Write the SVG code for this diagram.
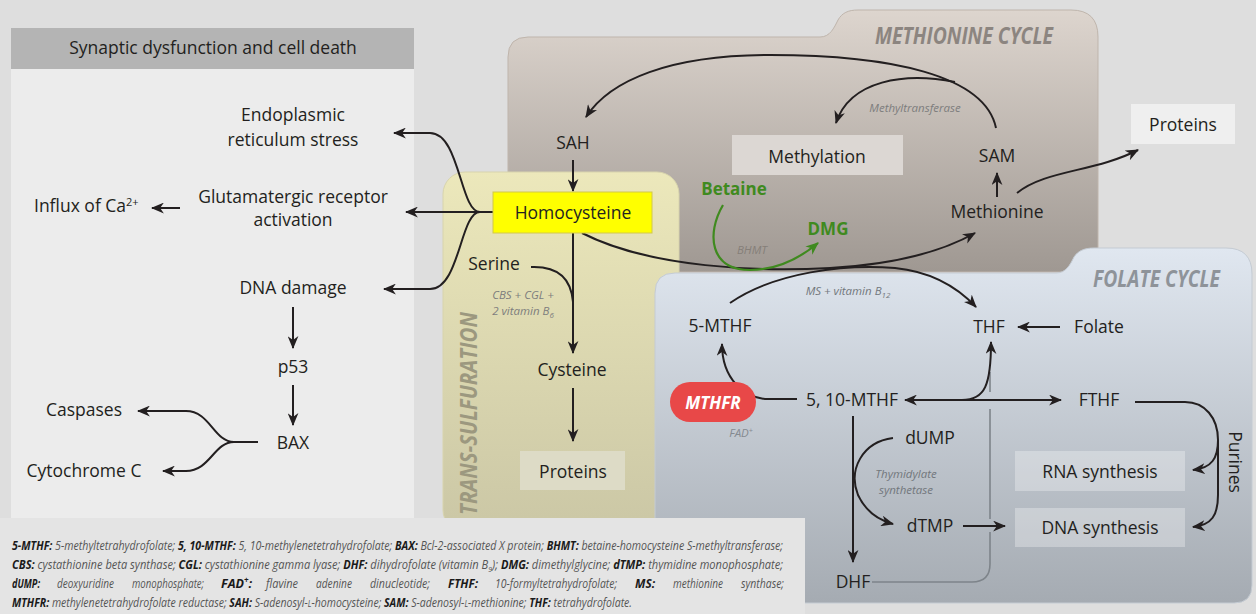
<svg xmlns="http://www.w3.org/2000/svg" width="1256" height="614" viewBox="0 0 1256 614">
<style>
.t{font-family:"Open Sans","Noto Sans",sans-serif;font-size:17.5px;fill:#231f20;text-anchor:middle}
.lab{font-family:"Open Sans","Noto Sans",sans-serif;font-style:italic;font-size:11.5px;fill:#7d7d7d;text-anchor:middle}
.ttl{font-family:"Open Sans","Noto Sans",sans-serif;font-style:italic;font-weight:bold;font-size:24px}
.grn{font-family:"Open Sans","Noto Sans",sans-serif;font-weight:bold;font-size:17px;fill:#3f8a1f;text-anchor:middle}
.ln{fill:none;stroke:#231f20;stroke-width:2;marker-end:url(#ah)}
.leg{font-family:"Open Sans","Noto Sans",sans-serif;font-style:italic;font-size:12.5px;fill:#555}
.b{font-weight:bold;fill:#1a1a1a}
</style>
<defs>
<marker id="ah" viewBox="0 0 12 10" refX="11" refY="5" markerWidth="13" markerHeight="11" markerUnits="userSpaceOnUse" orient="auto-start-reverse"><path d="M0,0 L12,5 L0,10 L3.5,5 Z" fill="#231f20"/></marker>
<marker id="ahg" viewBox="0 0 12 10" refX="11" refY="5" markerWidth="13" markerHeight="11" markerUnits="userSpaceOnUse" orient="auto"><path d="M0,0 L12,5 L0,10 L3.5,5 Z" fill="#3f8a1f"/></marker>
<linearGradient id="gMet" x1="0" y1="10" x2="0" y2="272" gradientUnits="userSpaceOnUse"><stop offset="0" stop-color="#ddd5ce"/><stop offset="1" stop-color="#9f9892"/></linearGradient>
<linearGradient id="gTs" x1="0" y1="172" x2="0" y2="518" gradientUnits="userSpaceOnUse"><stop offset="0" stop-color="#ece8bb"/><stop offset="1" stop-color="#ccc8a6"/></linearGradient>
<linearGradient id="gFol" x1="0" y1="248" x2="0" y2="603" gradientUnits="userSpaceOnUse"><stop offset="0" stop-color="#e0e7f0"/><stop offset="1" stop-color="#a5abb2"/></linearGradient>
</defs>
<rect width="1256" height="614" fill="#dedede"/>

<g id="panel-left">
<rect x="11" y="69" width="403" height="449" fill="#ececec"/>
<rect x="11" y="28" width="403" height="41" fill="#b4b4b4"/>
<text class="t" x="213" y="54">Synaptic dysfunction and cell death</text>
</g>

<g id="panel-methionine">
<path d="M528,37 H820 C830,37 834,28 838,20 C842,13 848,10 858,10 H1071 Q1098,10 1098,37 V272 H508 V57 Q508,37 528,37 Z" fill="url(#gMet)" stroke="#bfb5ac" stroke-width="1"/>
<text class="ttl" x="875" y="44" fill="#8c8580" textLength="178" lengthAdjust="spacingAndGlyphs">METHIONINE CYCLE</text>
</g>

<g id="panel-transsulfuration">
<rect x="443" y="172" width="236" height="360" rx="22" fill="url(#gTs)" stroke="#d8d4ad" stroke-width="1"/>
<text class="ttl" transform="translate(477,515) rotate(-90)" fill="#9c987f" textLength="203" lengthAdjust="spacingAndGlyphs">TRANS-SULFURATION</text>
</g>

<g id="panel-folate">
<path d="M675,273 H1056 C1066,273 1070,265 1074,257 C1078,251 1084,248 1094,248 H1226 Q1252,248 1252,274 V585 Q1252,603 1234,603 H655 V293 Q655,273 675,273 Z" fill="url(#gFol)" stroke="#c4cbd3" stroke-width="1"/>
<text class="ttl" x="1093" y="287" fill="#8e9399" textLength="127" lengthAdjust="spacingAndGlyphs">FOLATE CYCLE</text>
</g>

<g id="legend">
<rect x="0" y="518" width="805" height="96" fill="#e4e4e4"/>
<text class="leg" x="12" y="550" textLength="771" lengthAdjust="spacingAndGlyphs"><tspan class="b">5-MTHF:</tspan> 5-methyltetrahydrofolate; <tspan class="b">5, 10-MTHF:</tspan> 5, 10-methylenetetrahydrofolate; <tspan class="b">BAX:</tspan> Bcl-2-associated X protein; <tspan class="b">BHMT:</tspan> betaine-homocysteine S-methyltransferase;</text>
<text class="leg" x="12" y="569" textLength="771" lengthAdjust="spacingAndGlyphs"><tspan class="b">CBS:</tspan> cystathionine beta synthase; <tspan class="b">CGL:</tspan> cystathionine gamma lyase; <tspan class="b">DHF:</tspan> dihydrofolate (vitamin B<tspan font-size="8" dy="3">9</tspan><tspan dy="-3">); </tspan><tspan class="b">DMG:</tspan> dimethylglycine; <tspan class="b">dTMP:</tspan> thymidine monophosphate;</text>
<text class="leg b" x="12" y="588" textLength="28" lengthAdjust="spacingAndGlyphs">dUMP:</text>
<text class="leg" x="57" y="588" textLength="57" lengthAdjust="spacingAndGlyphs">deoxyuridine</text>
<text class="leg" x="132" y="588" textLength="72" lengthAdjust="spacingAndGlyphs">monophosphate;</text>
<text class="leg b" x="221" y="588">FAD<tspan font-size="8" dy="-5">+</tspan><tspan dy="5">:</tspan></text>
<text class="leg" x="266" y="588" textLength="32" lengthAdjust="spacingAndGlyphs">flavine</text>
<text class="leg" x="316" y="588" textLength="36" lengthAdjust="spacingAndGlyphs">adenine</text>
<text class="leg" x="370" y="588" textLength="60" lengthAdjust="spacingAndGlyphs">dinucleotide;</text>
<text class="leg b" x="448" y="588" textLength="30" lengthAdjust="spacingAndGlyphs">FTHF:</text>
<text class="leg" x="495" y="588" textLength="122" lengthAdjust="spacingAndGlyphs">10-formyltetrahydrofolate;</text>
<text class="leg b" x="635" y="588" textLength="20" lengthAdjust="spacingAndGlyphs">MS:</text>
<text class="leg" x="673" y="588" textLength="50" lengthAdjust="spacingAndGlyphs">methionine</text>
<text class="leg" x="741" y="588" textLength="43" lengthAdjust="spacingAndGlyphs">synthase;</text>
<text class="leg" x="12" y="607" textLength="620" lengthAdjust="spacingAndGlyphs"><tspan class="b">MTHFR:</tspan> methylenetetrahydrofolate reductase; <tspan class="b">SAH:</tspan> S-adenosyl-<tspan font-size="9">L</tspan>-homocysteine; <tspan class="b">SAM:</tspan> S-adenosyl-<tspan font-size="9">L</tspan>-methionine; <tspan class="b">THF:</tspan> tetrahydrofolate.</text>
</g>

<g id="connectors">
<path class="ln" d="M180,208 H152"/>
<path class="ln" d="M293,307 V348"/>
<path class="ln" d="M293,385 V425"/>
<path class="ln" d="M258,442 H234 C214,442 210,411 186,411 H138"/>
<path class="ln" d="M234,442 C214,442 210,471 186,471 H163"/>
<path class="ln" d="M493,212 H406"/>
<path class="ln" d="M480,212 C460,212 460,133 430,133 H394"/>
<path class="ln" d="M480,212 C460,212 460,289 430,289 H384"/>
<path class="ln" d="M573,160 V191"/>
<path class="ln" d="M573,233 V353"/>
<path fill="none" stroke="#231f20" stroke-width="2" d="M531,267 C556,266 571,276 573,302"/>
<path class="ln" d="M573,388 V441"/>
<path class="ln" d="M996,128 C985,75 890,55 770,55 C670,55 610,80 586,117"/>
<path class="ln" d="M955,82 C905,72 850,80 836,123"/>
<path class="ln" d="M997,197 V173"/>
<path class="ln" d="M1017,193 C1045,170 1095,172 1138,150"/>
<path class="ln" d="M582,233 C650,268 760,272 830,268 C900,264 945,250 975,233"/>
<path fill="none" stroke="#3f8a1f" stroke-width="2.2" marker-end="url(#ahg)" d="M723,205 C706,234 710,270 750,270 C778,270 800,258 818,243"/>
<path class="ln" d="M730,303 C775,272 845,264 895,268 C935,272 960,290 976,307"/>
<path fill="none" stroke="#7e848a" stroke-width="1.6" d="M872,582 H972 Q990,582 990,564 V532 M990,519 V409 M990,392 V372"/>
<path class="ln" d="M1060,327 H1018"/>
<path class="ln" marker-start="url(#ah)" d="M905,400 H1061"/>
<path class="ln" d="M962,400 C985,400 991,385 991,342"/>
<path class="ln" d="M797,399 H765 C745,397 722,380 722,344"/>
<path class="ln" d="M853,416 V562"/>
<path class="ln" d="M893,438 C862,442 848,470 858,495 C866,512 878,520 893,524"/>
<path class="ln" d="M963,526 H1005"/>
<path class="ln" d="M1135,402 H1185 C1205,402 1218,418 1218,440 C1218,458 1212,468 1193,470"/>
<path class="ln" d="M1218,440 V495 C1218,515 1212,525 1193,527"/>
</g>

<g id="n-er"><text class="t" x="293" y="121">Endoplasmic</text><text class="t" x="293" y="146">reticulum stress</text></g>
<g id="n-glu"><text class="t" x="293" y="203">Glutamatergic receptor</text><text class="t" x="293" y="226">activation</text></g>
<g id="n-ca"><text class="t" x="34" y="212" style="text-anchor:start">Influx of Ca<tspan font-size="11" dy="-6">2+</tspan></text></g>
<g id="n-dna"><text class="t" x="293" y="294">DNA damage</text></g>
<g id="n-p53"><text class="t" x="293" y="373">p53</text></g>
<g id="n-bax"><text class="t" x="293" y="449">BAX</text></g>
<g id="n-casp"><text class="t" x="84" y="416">Caspases</text></g>
<g id="n-cyto"><text class="t" x="84" y="477">Cytochrome C</text></g>

<g id="n-hcy"><rect x="493" y="192" width="159" height="41" fill="#ffff00" stroke="#d2c84a" stroke-width="1"/><text class="t" x="573" y="219">Homocysteine</text></g>
<g id="n-sah"><text class="t" x="573" y="149">SAH</text></g>
<g id="n-meth"><rect x="732" y="135" width="171" height="40" fill="#dcd7d3"/><text class="t" x="817" y="163">Methylation</text></g>
<g id="n-mt"><text class="lab" x="915" y="112">Methyltransferase</text></g>
<g id="n-sam"><text class="t" x="997" y="162">SAM</text></g>
<g id="n-met"><text class="t" x="997" y="218">Methionine</text></g>
<g id="n-prot1"><rect x="1131" y="104" width="104" height="40" fill="#efefef"/><text class="t" x="1183" y="131">Proteins</text></g>
<g id="n-bet"><text class="grn" x="734" y="195">Betaine</text></g>
<g id="n-dmg"><text class="grn" x="828" y="235">DMG</text></g>
<g id="n-bhmt"><text class="lab" x="752" y="254" style="fill:#857f79">BHMT</text></g>

<g id="n-ser"><text class="t" x="494" y="270">Serine</text></g>
<g id="n-cbs"><text class="lab" x="523" y="299">CBS + CGL +</text><text class="lab" x="523" y="315">2 vitamin B<tspan font-size="8" dy="3">6</tspan></text></g>
<g id="n-cys"><text class="t" x="572" y="376">Cysteine</text></g>
<g id="n-prot2"><rect x="520" y="451" width="105" height="39" fill="#dddbc6"/><text class="t" x="573" y="478">Proteins</text></g>

<g id="n-5mthf"><text class="t" x="720" y="332">5-MTHF</text></g>
<g id="n-ms"><text class="lab" x="848" y="295" style="fill:#72777c">MS + vitamin B<tspan font-size="8" dy="3">12</tspan></text></g>
<g id="n-thf"><text class="t" x="989" y="333">THF</text></g>
<g id="n-folate"><text class="t" x="1099" y="333">Folate</text></g>
<g id="n-510"><text class="t" x="852" y="406">5, 10-MTHF</text></g>
<g id="n-mthfr"><rect x="670" y="382" width="86" height="40" rx="20" fill="#e84848"/><text x="713" y="409" style="font-family:'Open Sans','Noto Sans',sans-serif;font-weight:bold;font-style:italic;font-size:17px;fill:#fff;text-anchor:middle">MTHFR</text></g>
<g id="n-fad"><text class="lab" x="741" y="437" style="fill:#858a90">FAD<tspan font-size="7" dy="-4">+</tspan></text></g>
<g id="n-fthf"><text class="t" x="1099" y="406">FTHF</text></g>
<g id="n-dump"><text class="t" x="930" y="444">dUMP</text></g>
<g id="n-ts"><text class="lab" x="906" y="478" style="fill:#72777c">Thymidylate</text><text class="lab" x="906" y="494" style="fill:#72777c">synthetase</text></g>
<g id="n-dtmp"><text class="t" x="930" y="532">dTMP</text></g>
<g id="n-dhf"><text class="t" x="853" y="588">DHF</text></g>
<g id="n-rna"><rect x="1015" y="451" width="170" height="40" fill="#ffffff" fill-opacity="0.3"/><text class="t" x="1100" y="478">RNA synthesis</text></g>
<g id="n-dnas"><rect x="1015" y="508" width="170" height="39" fill="#ffffff" fill-opacity="0.3"/><text class="t" x="1100" y="534">DNA synthesis</text></g>
<g id="n-pur"><text class="t" transform="translate(1229,462) rotate(90)">Purines</text></g>
</svg>
